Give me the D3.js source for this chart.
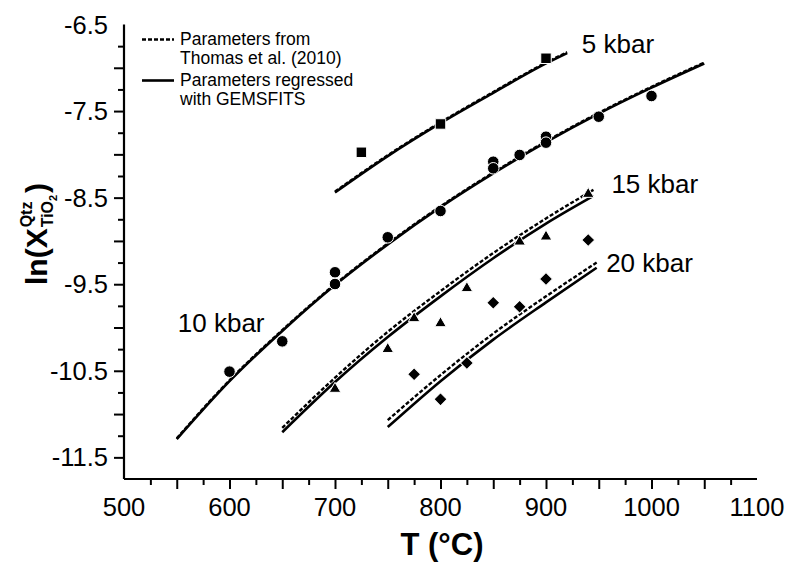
<!DOCTYPE html>
<html>
<head>
<meta charset="utf-8">
<script src="https://cdn.jsdelivr.net/npm/d3@7"></script>
<style>
    body { margin: 0; background: #fff; }
    text { font-family: "Liberation Sans", Arial, sans-serif; }
</style>
</head>
<body>
<div id="chart"></div>
<script>
"use strict";

// Measured points, [T (°C), ln X]
let pts5 = [[725, -7.976], [800, -7.649], [900, -6.890]];
let pts10 = [[600, -10.51], [650, -10.16], [700, -9.362], [700, -9.498], [750, -8.958],
    [800, -8.654], [850, -8.085], [850, -8.161], [875, -8.007], [900, -7.796],
    [900, -7.865], [950, -7.565], [1000, -7.326]];
let pts15 = [[700, -10.71], [750, -10.25], [775, -9.894], [800, -9.952], [825, -9.547],
    [875, -9.009], [900, -8.951], [940, -8.458]];
let pts20 = [[775, -10.54], [800, -10.83], [825, -10.41], [850, -9.714], [875, -9.760],
    [900, -9.440], [940, -8.989]];

// Model curves: Thomas et al. (2010) parameters (dashed) and GEMSFITS (solid)
let thomas5 = [[700, -8.43], [750, -8.01], [800, -7.63], [850, -7.28], [900, -6.94], [920, -6.82]];
let gems5 = [[700, -8.44], [750, -8.02], [800, -7.64], [850, -7.29], [900, -6.95], [920, -6.83]];
let thomas10 = [[550, -11.28], [600, -10.61], [650, -10.03], [700, -9.50], [750, -9.03], [800, -8.60],
    [850, -8.21], [900, -7.85], [950, -7.52], [1000, -7.22], [1050, -6.94]];
let gems10 = [[550, -11.29], [600, -10.62], [650, -10.04], [700, -9.51], [750, -9.04], [800, -8.61],
    [850, -8.22], [900, -7.86], [950, -7.53], [1000, -7.23], [1050, -6.95]];
let thomas15 = [[650, -11.16], [700, -10.58], [750, -10.05], [800, -9.58], [850, -9.14], [900, -8.74], [945, -8.41]];
let gems15 = [[650, -11.21], [700, -10.63], [750, -10.11], [800, -9.64], [850, -9.20], [900, -8.80], [945, -8.48]];
let thomas20 = [[750, -11.07], [800, -10.55], [850, -10.07], [900, -9.64], [948, -9.25]];
let gems20 = [[750, -11.15], [800, -10.62], [850, -10.14], [900, -9.71], [948, -9.31]];

let xTickLabels = [500, 600, 700, 800, 900, 1000, 1100];
let yTickLabels = [-6.5, -7.5, -8.5, -9.5, -10.5, -11.5];
let pressureLabels = [["5 kbar", 934, -6.83], ["10 kbar", 551, -10.05], ["15 kbar", 962, -8.45], ["20 kbar", 957, -9.36]];
let legendItems = [["Parameters from", "Thomas et al. (2010)", "4,2"], ["Parameters regressed", "with GEMSFITS", null]];

let width = 788;
let height = 563;

let svg = d3.select("#chart").append("svg")
    .attr("width", width).attr("height", height);

let x = d3.scaleLinear().domain([500, 1100]).range([124, 757]);
let y = d3.scaleLinear().domain([-11.75, -6.5]).range([479, 24.5]);

// Curves
let line = d3.line()
    .x(function (d) { return x(d[0]); })
    .y(function (d) { return y(d[1]); })
    .curve(d3.curveMonotoneX);

[gems5, gems10, gems15, gems20].forEach(function (c) {
    svg.append("path").attr("d", line(c)).attr("fill", "none")
        .attr("stroke", "#000").attr("stroke-width", 2.6);
});
[thomas5, thomas10, thomas15, thomas20].forEach(function (c) {
    svg.append("path").attr("d", line(c)).attr("fill", "none")
        .attr("stroke", "#000").attr("stroke-width", 2.4)
        .attr("stroke-dasharray", "4,2");
});

// Data points
function drawPoints(data, type, size, rotate) {
    svg.append("g").selectAll("path").data(data).enter()
        .append("path")
        .attr("d", d3.symbol().type(type).size(size))
        .attr("transform", function (d) {
            return `translate(${x(d[0])},${y(d[1])}) rotate(${rotate})`;
        })
        .attr("fill", "#000").attr("stroke", "#fff").attr("stroke-width", 1);
}
drawPoints(pts5, d3.symbolSquare, 110, 0);
drawPoints(pts10, d3.symbolCircle, 105, 0);
drawPoints(pts15, d3.symbolTriangle, 58, 0);
drawPoints(pts20, d3.symbolSquare, 85, 45);

// Axes
let xAxis = d3.axisBottom(x).tickValues(d3.range(525, 1100, 25))
    .tickSize(6).tickFormat("");
let xg = svg.append("g").attr("transform", `translate(0,${y.range()[0]})`).call(xAxis);
xg.selectAll(".tick line").attr("y2", function (d) { return d % 50 === 0 ? 10 : 6; });

let yAxis = d3.axisLeft(y).tickValues(d3.range(-11.5, -6.5, 0.25))
    .tickSize(6).tickFormat("");
let yg = svg.append("g").attr("transform", `translate(${x.range()[0]},0)`).call(yAxis);
yg.selectAll(".tick line").attr("x2", function (d) { return Math.abs(d * 2 - Math.round(d * 2)) < 0.01 ? -10 : -6; });

[xg, yg].forEach(function (g) {
    g.select(".domain").attr("stroke-width", 2.2);
    g.selectAll(".tick line").attr("stroke-width", 2);
});
xg.select(".domain").attr("d", `M${x.range()[0]},0H${x.range()[1]}`);
yg.select(".domain").attr("d", `M0,${y.range()[1]}V${y.range()[0]}`);

svg.selectAll(".xlab").data(xTickLabels).enter().append("text")
    .attr("x", function (d) { return x(d); }).attr("y", 516)
    .attr("text-anchor", "middle").attr("font-size", 25.5).text(function (d) { return d; });

svg.selectAll(".ylab").data(yTickLabels).enter().append("text")
    .attr("x", 108).attr("y", function (d) { return y(d) + 9; })
    .attr("text-anchor", "end").attr("font-size", 25.5).text(function (d) { return d; });

// Axis titles
svg.append("text").attr("x", 442).attr("y", 555).attr("text-anchor", "middle")
    .attr("font-size", 31).attr("font-weight", "bold").text("T (°C)");

let yt = svg.append("g").attr("transform", "translate(47,285) rotate(-90)")
    .attr("font-weight", "bold");
let main = yt.append("text").attr("font-size", 30).text("ln(X");
let mainLen = main.node().getComputedTextLength();
let sup = yt.append("text").attr("x", mainLen + 1).attr("y", -15).attr("font-size", 16).text("Qtz");
let sub = yt.append("text").attr("x", mainLen + 1).attr("y", 6).attr("font-size", 16).text("TiO");
let subLen = sub.node().getComputedTextLength();
yt.append("text").attr("x", mainLen + 1 + subLen).attr("y", 10).attr("font-size", 11).text("2");
let endX = mainLen + 1 + Math.max(sup.node().getComputedTextLength(), subLen + 7) + 1;
yt.append("text").attr("x", endX).attr("font-size", 30).text(")");

// Pressure labels
svg.selectAll(".plab").data(pressureLabels).enter().append("text")
    .attr("x", function (d) { return x(d[1]); }).attr("y", function (d) { return y(d[2]); })
    .attr("font-size", 26).text(function (d) { return d[0]; });

// Legend, one text block per entry
legendItems.forEach(function (item, i) {
    let top = 39.5 + i * 41;
    svg.append("line").attr("x1", 142).attr("x2", 174).attr("y1", top).attr("y2", top)
        .attr("stroke", "#000").attr("stroke-width", 2.6)
        .attr("stroke-dasharray", item[2]);
    let t = svg.append("text").attr("y", top + 5).attr("font-size", 17.5);
    t.append("tspan").attr("x", 180).text(item[0]);
    t.append("tspan").attr("x", 180).attr("dy", 19.6).text(item[1]);
});
</script>
</body>
</html>
